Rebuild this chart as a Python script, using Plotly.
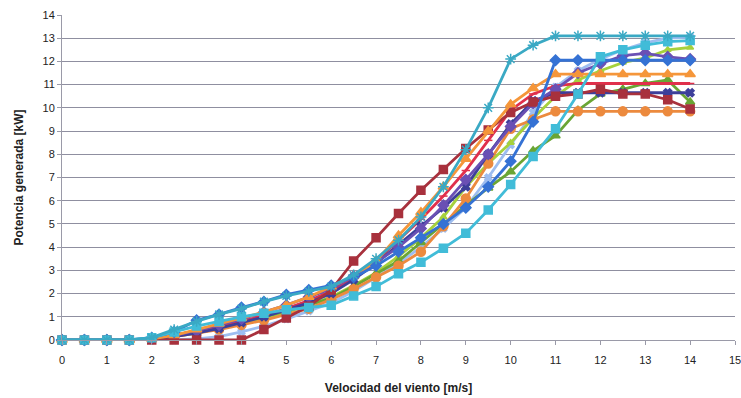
import plotly.graph_objects as go

x_vals = [i * 0.5 for i in range(29)]

s1_blue_diamond = [0,0,0,0,0.1,0.35,0.85,1.1,1.4,1.65,1.95,2.15,2.35,2.7,3.2,3.8,4.4,5.0,5.7,6.6,7.7,9.4,12.05,12.05,12.05,12.05,12.05,12.05,12.05]
s2_darkred_square = [0,0,0,0,0,0,0,0,0,0.45,0.95,1.45,2.15,3.4,4.4,5.45,6.45,7.35,8.25,9.05,9.8,10.25,10.5,10.6,10.8,10.6,10.6,10.35,9.95]
s3_green_triangle = [0,0,0,0,0.05,0.2,0.4,0.6,0.8,1.0,1.25,1.5,1.8,2.3,2.85,3.4,4.2,5.0,5.8,6.55,7.25,8.15,8.8,9.9,10.6,10.8,11.05,11.2,10.25]
s4_navy_x = [0,0,0,0,0.05,0.15,0.3,0.5,0.75,1.0,1.3,1.6,2.0,2.6,3.3,4.1,4.9,5.7,6.6,8.0,9.3,10.3,10.65,10.65,10.65,10.65,10.65,10.65,10.65]
s5_teal_star = [0,0,0,0,0.1,0.45,0.8,1.1,1.35,1.65,1.9,2.1,2.3,2.8,3.5,4.3,5.3,6.6,8.2,10.0,12.1,12.7,13.1,13.1,13.1,13.1,13.1,13.1,13.1]
s6_orange_circle = [0,0,0,0,0.05,0.15,0.3,0.45,0.65,0.85,1.1,1.35,1.75,2.2,2.7,3.2,3.8,4.9,6.1,7.6,9.1,9.5,9.85,9.85,9.85,9.85,9.85,9.85,9.85]
s7_orange_triangle = [0,0,0,0,0.05,0.2,0.45,0.7,0.95,1.2,1.5,1.85,2.3,2.75,3.4,4.5,5.5,6.6,7.8,9.0,10.15,10.85,11.45,11.45,11.45,11.45,11.45,11.45,11.45]
s8_red_line = [0,0,0,0,0.05,0.15,0.35,0.55,0.8,1.05,1.35,1.7,2.1,2.7,3.4,4.3,5.2,6.2,7.3,8.6,9.9,10.6,10.95,11.05,11.05,11.05,11.05,11.05,11.05]
s9_lime = [0,0,0,0,0.05,0.15,0.3,0.5,0.7,0.95,1.2,1.5,1.85,2.35,2.9,3.6,4.4,5.3,6.6,7.6,8.5,9.55,10.5,11.2,11.6,11.95,12.15,12.5,12.6]
s10_cyan_square = [0,0,0,0,0.1,0.35,0.6,0.8,1.0,1.15,1.3,1.4,1.5,1.9,2.3,2.85,3.35,3.95,4.6,5.6,6.7,7.9,9.1,10.6,12.2,12.5,12.7,12.85,12.9]
s11_lightblue = [0,0,0,0,0,0,0.05,0.15,0.35,0.6,0.9,1.25,1.6,2.1,2.7,3.3,4.0,4.8,5.7,7.0,8.4,9.8,10.9,11.6,12.1,12.5,12.8,13.0,13.05]
s12_purple_diamond = [0,0,0,0,0.05,0.2,0.4,0.65,0.9,1.2,1.5,1.85,2.2,2.75,3.35,4.0,4.8,5.8,6.9,8.0,9.2,10.2,10.8,11.5,11.9,12.25,12.35,12.2,12.1]

series = [
    (s11_lightblue, "#9dbdf0", "x", 6),
    (s9_lime, "#a6d13c", "triangle-up", 6),
    (s3_green_triangle, "#6aa534", "triangle-up", 8),
    (s6_orange_circle, "#ec8a3e", "circle", 9),
    (s8_red_line, "#e0304c", "line-ew", 6),
    (s4_navy_x, "#3d3f9a", "x", 7),
    (s12_purple_diamond, "#6a50b4", "diamond", 8),
    (s2_darkred_square, "#a8313d", "square", 8),
    (s7_orange_triangle, "#f5963a", "triangle-up", 9),
    (s1_blue_diamond, "#3572d4", "diamond", 8),
    (s10_cyan_square, "#41bcd8", "square", 8),
    (s5_teal_star, "#3aa9c4", "asterisk-open", 9),
]

fig = go.Figure()
for ys, col, sym, sz in series:
    fig.add_trace(go.Scatter(
        x=x_vals, y=ys, mode="lines+markers",
        line=dict(color=col, width=2.8),
        marker=dict(symbol=sym, size=sz, color=col, line=dict(color=col, width=1.5)),
        cliponaxis=False, showlegend=False,
    ))

fig.update_layout(
    width=741, height=398,
    margin=dict(l=62, r=6, t=15, b=58, autoexpand=False),
    paper_bgcolor="white", plot_bgcolor="white",
    font=dict(family="Liberation Sans, Arial, sans-serif", color="#222"),
)
fig.update_xaxes(
    range=[0, 15], dtick=1, tick0=0, showgrid=False,
    showline=True, linecolor="#9a9aa8", linewidth=1,
    ticks="outside", ticklen=4, tickcolor="#9a9aa8",
    tickfont=dict(size=11), zeroline=False, ticklabelstandoff=6,
    ticklabeloverflow="allow", automargin=False,
    title=dict(text="<b>Velocidad del viento [m/s]</b>", font=dict(size=12), standoff=18),
)
fig.update_yaxes(
    range=[0, 14], dtick=1, tick0=0, showgrid=True,
    gridcolor="#8f8fa0", gridwidth=1,
    showline=True, linecolor="#9a9aa8", linewidth=1,
    ticks="outside", ticklen=4, tickcolor="#9a9aa8",
    tickfont=dict(size=11), zeroline=False, automargin=False,
    title=dict(text="<b>Potencia generada [kW]</b>", font=dict(size=12), standoff=16),
)

fig.write_html("out.html")
